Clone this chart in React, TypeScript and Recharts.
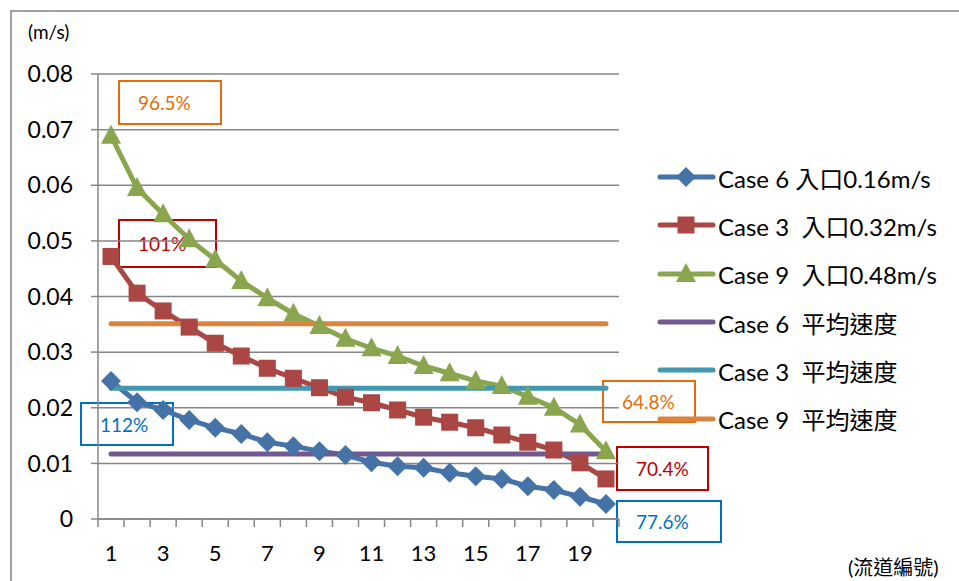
import React from 'react';
import { LineChart, Line, XAxis, YAxis, CartesianGrid } from 'recharts';

// channel numbers (流道編號)
const channels = [1, 2, 3, 4, 5, 6, 7, 8, 9, 10, 11, 12, 13, 14, 15, 16, 17, 18, 19, 20];

// velocity per channel (m/s)
const case6 = [0.0248, 0.0210, 0.0196, 0.0178, 0.0164, 0.0153, 0.0138, 0.0131, 0.0122, 0.0115,
  0.0102, 0.0095, 0.0092, 0.0083, 0.0077, 0.0072, 0.0059, 0.0052, 0.0040, 0.0027];
const case3 = [0.0472, 0.0406, 0.0374, 0.0345, 0.0316, 0.0293, 0.0271, 0.0253, 0.0236, 0.0219,
  0.0209, 0.0196, 0.0183, 0.0174, 0.0164, 0.0151, 0.0138, 0.0124, 0.0101, 0.0072];
const case9 = [0.0689, 0.0595, 0.0548, 0.0503, 0.0466, 0.0428, 0.0397, 0.0369, 0.0347, 0.0324,
  0.0307, 0.0293, 0.0275, 0.0262, 0.0248, 0.0239, 0.0220, 0.0200, 0.0170, 0.0122];

// mean velocities
const avg6 = 0.0117;
const avg3 = 0.0235;
const avg9 = 0.0351;

const yTicks = [0, 0.01, 0.02, 0.03, 0.04, 0.05, 0.06, 0.07, 0.08];

// percentage call-outs
const notes = [
  { text: '96.5%', color: '#E46C0A', left: 118, top: 80, width: 104, height: 45 },
  { text: '101%', color: '#C00000', left: 118, top: 219, width: 99, height: 49 },
  { text: '112%', color: '#0070C0', left: 80, top: 402, width: 94, height: 44 },
  { text: '64.8%', color: '#E46C0A', left: 602, top: 380, width: 94, height: 43 },
  { text: '70.4%', color: '#C00000', left: 616, top: 446, width: 93, height: 45 },
  { text: '77.6%', color: '#0070C0', left: 616, top: 500, width: 106, height: 43 },
];

const FONT = "Lato, 'Noto Sans CJK TC', sans-serif";
const GRID = '#868686';
const PLOT_LEFT = 98;
const PLOT_RIGHT = 619;
const HALF_BAND = (PLOT_RIGHT - PLOT_LEFT) / channels.length / 2;

const data = channels.map((ch, i) => ({
  ch,
  case6: case6[i],
  case3: case3[i],
  case9: case9[i],
  avg6,
  avg3,
  avg9,
}));

const Diamond = ({ cx, cy, fill }: any) => (
  <polygon points={`${cx},${cy - 10} ${cx + 10},${cy} ${cx},${cy + 10} ${cx - 10},${cy}`} fill={fill} />
);
const Square = ({ cx, cy, fill }: any) => (
  <rect x={cx - 8.5} y={cy - 8.5} width={17} height={17} fill={fill} />
);
const Triangle = ({ cx, cy, fill }: any) => (
  <polygon points={`${cx},${cy - 11} ${cx + 10},${cy + 8} ${cx - 10},${cy + 8}`} fill={fill} />
);

const series = [
  { key: 'case6', name: 'Case 6 入口0.16m/s', color: '#4572A7', marker: Diamond },
  { key: 'case3', name: 'Case 3  入口0.32m/s', color: '#AA4643', marker: Square },
  { key: 'case9', name: 'Case 9  入口0.48m/s', color: '#89A54E', marker: Triangle },
  { key: 'avg6', name: 'Case 6  平均速度', color: '#71588F', marker: null },
  { key: 'avg3', name: 'Case 3  平均速度', color: '#4198AF', marker: null },
  { key: 'avg9', name: 'Case 9  平均速度', color: '#DB843D', marker: null },
];

const XTick = (props: any) => {
  const { x, y, payload, index } = props;
  const last = index === channels.length - 1;
  return (
    <g>
      <line x1={x - HALF_BAND} y1={y} x2={x - HALF_BAND} y2={y + 8} stroke={GRID} strokeWidth={1.5} />
      {last && <line x1={x + HALF_BAND} y1={y} x2={x + HALF_BAND} y2={y + 8} stroke={GRID} strokeWidth={1.5} />}
      {payload.value % 2 === 1 && (
        <text x={x} y={y + 42} textAnchor="middle" fontSize={22} fontFamily={FONT} fill="#000">
          {payload.value}
        </text>
      )}
    </g>
  );
};

export default function App() {
  return (
    <div style={{ position: 'absolute', left: 0, top: 0, width: 959, height: 581, background: '#fff', fontFamily: FONT }}>
      <div style={{ position: 'absolute', left: 10, top: 10, width: 1000, height: 1000, borderLeft: `2px solid #a0a0a0`, borderTop: `2px solid #a0a0a0` }} />
      {notes.map((n) => (
        <div
          key={n.text}
          style={{
            position: 'absolute', left: n.left, top: n.top, width: n.width, height: n.height,
            boxSizing: 'border-box', border: `2px solid ${n.color}`, color: n.color,
            fontSize: 19, display: 'flex', alignItems: 'center', paddingLeft: 18,
          }}
        >
          {n.text}
        </div>
      ))}
      <div style={{ position: 'absolute', left: 28, top: 20, fontSize: 19 }}>(m/s)</div>
      <div style={{ position: 'absolute', left: 848, top: 552, fontSize: 20 }}>(流道編號)</div>
      <div style={{ position: 'absolute', left: 0, top: 0 }}>
        <LineChart width={959} height={581} data={data} margin={{ top: 74, right: 959 - PLOT_RIGHT, bottom: 0, left: 0 }}>
          <CartesianGrid vertical={false} stroke={GRID} strokeWidth={1.5} />
          <XAxis
            dataKey="ch"
            type="number"
            domain={[0.5, 20.5]}
            ticks={channels}
            interval={0}
            height={62}
            tickSize={0}
            tickMargin={0}
            tickLine={false}
            axisLine={{ stroke: GRID, strokeWidth: 1.5 }}
            tick={<XTick />}
          />
          <YAxis
            domain={[0, 0.08]}
            ticks={yTicks}
            width={PLOT_LEFT}
            tickSize={7}
            tickMargin={18}
            tickFormatter={(v: number) => (v === 0 ? '0' : v.toFixed(2))}
            tick={{ fill: '#000', fontSize: 23, fontFamily: FONT }}
            tickLine={{ stroke: GRID, strokeWidth: 1.5 }}
            axisLine={{ stroke: GRID, strokeWidth: 1.5 }}
          />
          {series.map((s) => {
            const M = s.marker;
            return (
              <Line
                key={s.key}
                type="linear"
                dataKey={s.key}
                name={s.name}
                stroke={s.color}
                strokeWidth={5}
                strokeLinecap="round"
                dot={M ? (p: any) => <M key={`${s.key}-${p.index}`} cx={p.cx} cy={p.cy} fill={s.color} /> : false}
                activeDot={false}
                isAnimationActive={false}
              />
            );
          })}
        </LineChart>
      </div>
      <div style={{ position: 'absolute', left: 654, top: 153 }}>
        {series.map((s) => {
          const M = s.marker;
          return (
            <div key={s.key} style={{ display: 'flex', alignItems: 'center', height: 48.3 }}>
              <svg width={64} height={24}>
                <line x1={6} y1={12} x2={59} y2={12} stroke={s.color} strokeWidth={5} strokeLinecap="round" />
                {M && <M cx={32} cy={12} fill={s.color} />}
              </svg>
              <span style={{ fontSize: 24, whiteSpace: 'pre', color: '#000' }}>{s.name}</span>
            </div>
          );
        })}
      </div>
    </div>
  );
}
